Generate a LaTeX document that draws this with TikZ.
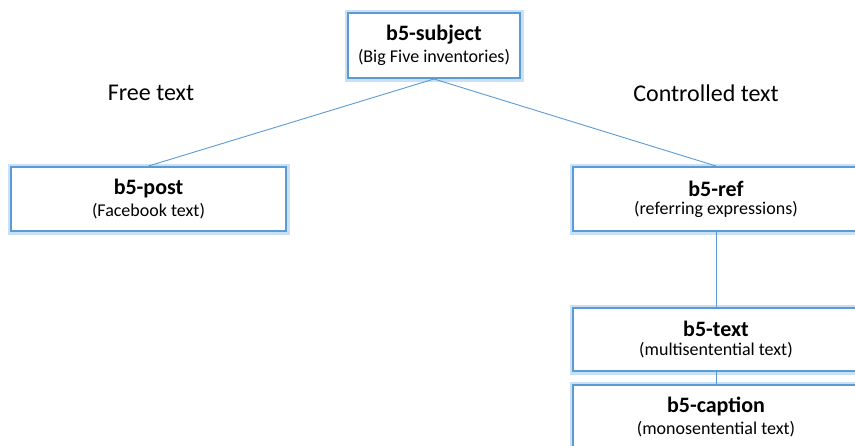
\documentclass[tikz,border=0pt]{standalone}
\usepackage{fontspec}
\setmainfont{Carlito}
\definecolor{boxblue}{HTML}{5B9BD5}
\definecolor{glowblue}{HTML}{C9E0F5}
\begin{document}
\begin{tikzpicture}[x=1pt,y=-1pt,
  box/.style={rectangle, draw=boxblue, line width=2pt, fill=white,
    preaction={draw=glowblue, line width=7pt},
    inner sep=0pt, align=center, text=black},
  conn/.style={draw=boxblue, line width=0.9pt},
  lab/.style={font=\fontsize{24}{28}\selectfont, text=black}]
\useasboundingbox (0,0) rectangle (855,445);
\clip (0,0) rectangle (855,445);
\fill[white] (0,0) rectangle (855,445);
\newcommand{\bx}[2]{{\fontsize{22}{26}\selectfont\bfseries #1}\\[4pt]{\fontsize{18}{21}\selectfont #2}}
\node[box, minimum width=172pt, minimum height=65pt] (subj) at (434,45.5) {\bx{b5-subject}{(Big Five inventories)}};
\node[box, minimum width=275pt, minimum height=64pt] (post) at (148.5,199) {\bx{b5-post}{(Facebook text)}};
\node[box, minimum width=286pt, minimum height=64pt] (ref) at (716,199) {\bx{b5-ref}{(referring expressions)}};
\node[box, minimum width=286pt, minimum height=63pt] (text) at (716,339.5) {\bx{b5-text}{(multisentential text)}};
\node[box, minimum width=286pt, minimum height=64pt] (cap) at (716,417) {\bx{b5-caption}{(monosentential text)}};
\node[lab] (free) at (151,93) {Free text};
\node[lab] (ctrl) at (706,93) {Controlled text};
\draw[conn] (subj.south) -- (post.north);
\draw[conn] (subj.south) -- (ref.north);
\draw[conn] (ref.south) -- (text.north);
\draw[conn] (text.south) -- (cap.north);
\end{tikzpicture}
\end{document}
